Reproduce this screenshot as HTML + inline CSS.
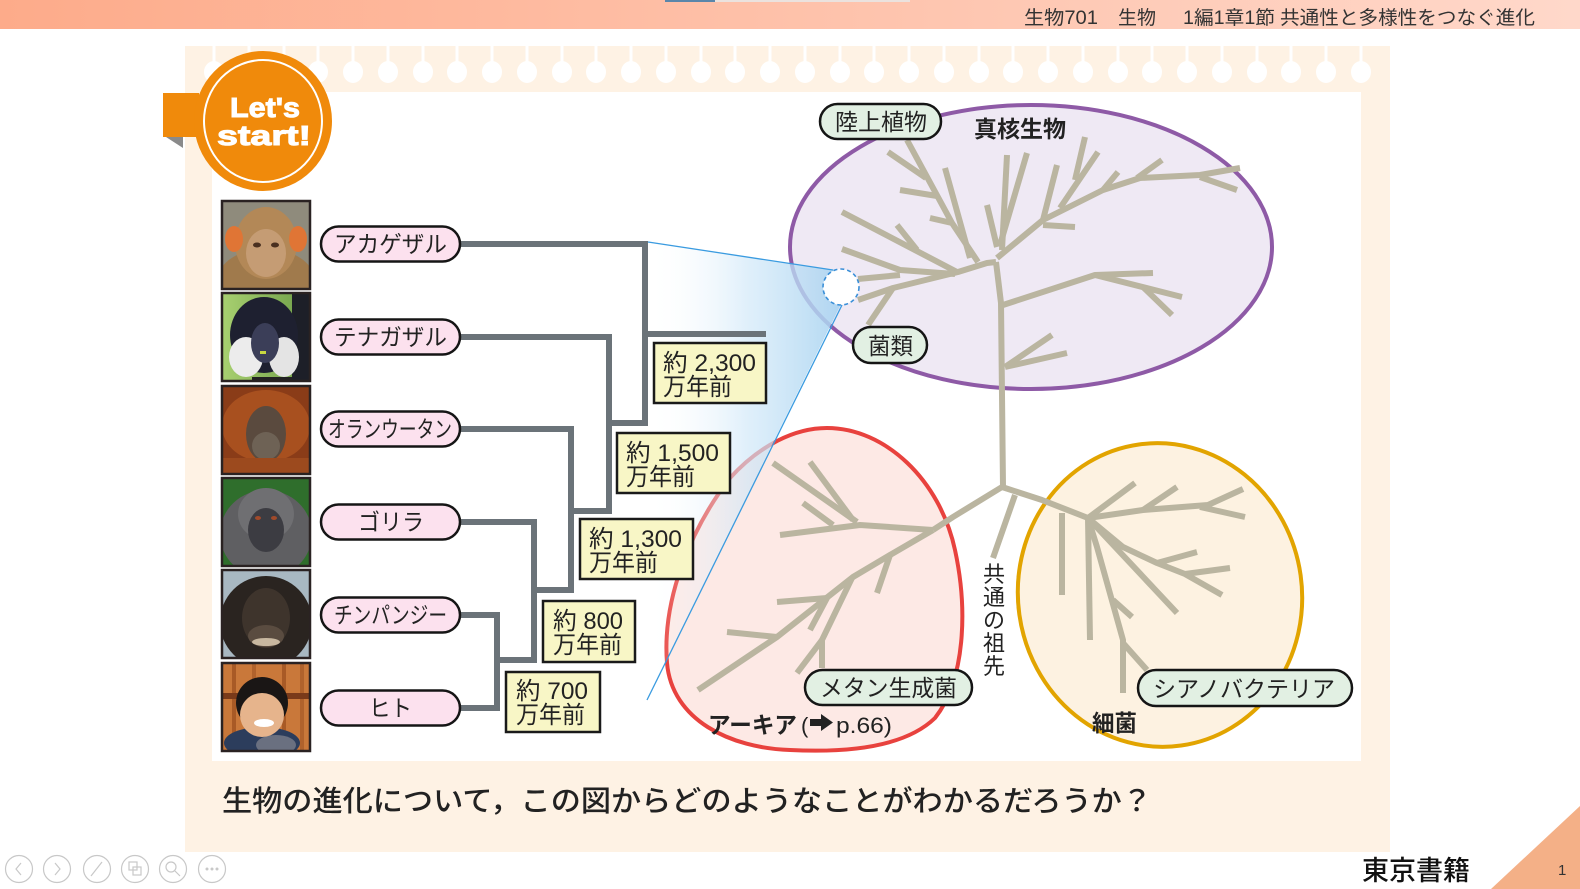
<!DOCTYPE html>
<html><head><meta charset="utf-8">
<style>
html,body{margin:0;padding:0;background:#fff;}
body{width:1580px;height:889px;overflow:hidden;}
svg{display:block;}
text{font-family:"Liberation Sans","Noto Sans CJK JP","DejaVu Sans",sans-serif;}
</style></head><body>
<svg width="1580" height="889" viewBox="0 0 1580 889" xmlns="http://www.w3.org/2000/svg">
<defs>
<linearGradient id="bar" x1="0" x2="1" y1="0" y2="0">
<stop offset="0" stop-color="#fdab8a"/><stop offset="1" stop-color="#ffd8ca"/>
</linearGradient>
<linearGradient id="cone" gradientUnits="userSpaceOnUse" x1="648" y1="0" x2="845" y2="0">
<stop offset="0" stop-color="#ffffff" stop-opacity="0"/>
<stop offset="0.5" stop-color="#cfe7f8" stop-opacity="0.65"/>
<stop offset="1" stop-color="#a6d2f0" stop-opacity="0.9"/>
</linearGradient>
<linearGradient id="gib" x1="0" x2="1" y1="0" y2="0">
<stop offset="0" stop-color="#a8d070"/><stop offset="1" stop-color="#6e9e48"/>
</linearGradient>
</defs>

<!-- top bar -->
<rect x="0" y="0" width="1580" height="29" fill="url(#bar)"/>
<rect x="665" y="0" width="50" height="2" fill="#5a86aa"/>
<rect x="715" y="0" width="195" height="2" fill="#ebe2de"/>
<g font-size="19" fill="#333">
<text x="1024" y="24" textLength="74" lengthAdjust="spacingAndGlyphs">生物701</text>
<text x="1118" y="24" textLength="38" lengthAdjust="spacingAndGlyphs">生物</text>
<text x="1183" y="24" textLength="92" lengthAdjust="spacingAndGlyphs">1編1章1節</text>
<text x="1280" y="24" textLength="255" lengthAdjust="spacingAndGlyphs">共通性と多様性をつなぐ進化</text>
</g>

<!-- card -->
<rect x="185" y="46" width="1205" height="806" fill="#fef2e4"/>
<rect x="212" y="92" width="1149" height="669" fill="#ffffff"/>
<g stroke="#fff" stroke-width="3">
<line x1="214" y1="46" x2="214" y2="64"/><line x1="249" y1="46" x2="249" y2="64"/><line x1="284" y1="46" x2="284" y2="64"/><line x1="318" y1="46" x2="318" y2="64"/><line x1="353" y1="46" x2="353" y2="64"/><line x1="388" y1="46" x2="388" y2="64"/><line x1="423" y1="46" x2="423" y2="64"/><line x1="457" y1="46" x2="457" y2="64"/><line x1="492" y1="46" x2="492" y2="64"/><line x1="527" y1="46" x2="527" y2="64"/><line x1="562" y1="46" x2="562" y2="64"/><line x1="596" y1="46" x2="596" y2="64"/><line x1="631" y1="46" x2="631" y2="64"/><line x1="666" y1="46" x2="666" y2="64"/><line x1="701" y1="46" x2="701" y2="64"/><line x1="735" y1="46" x2="735" y2="64"/><line x1="770" y1="46" x2="770" y2="64"/><line x1="805" y1="46" x2="805" y2="64"/><line x1="840" y1="46" x2="840" y2="64"/><line x1="874" y1="46" x2="874" y2="64"/><line x1="909" y1="46" x2="909" y2="64"/><line x1="944" y1="46" x2="944" y2="64"/><line x1="979" y1="46" x2="979" y2="64"/><line x1="1013" y1="46" x2="1013" y2="64"/><line x1="1048" y1="46" x2="1048" y2="64"/><line x1="1083" y1="46" x2="1083" y2="64"/><line x1="1118" y1="46" x2="1118" y2="64"/><line x1="1152" y1="46" x2="1152" y2="64"/><line x1="1187" y1="46" x2="1187" y2="64"/><line x1="1222" y1="46" x2="1222" y2="64"/><line x1="1257" y1="46" x2="1257" y2="64"/><line x1="1291" y1="46" x2="1291" y2="64"/><line x1="1326" y1="46" x2="1326" y2="64"/><line x1="1361" y1="46" x2="1361" y2="64"/>
</g>
<g fill="#fff">
<ellipse cx="214" cy="72" rx="10" ry="11"/><ellipse cx="249" cy="72" rx="10" ry="11"/><ellipse cx="284" cy="72" rx="10" ry="11"/><ellipse cx="318" cy="72" rx="10" ry="11"/><ellipse cx="353" cy="72" rx="10" ry="11"/><ellipse cx="388" cy="72" rx="10" ry="11"/><ellipse cx="423" cy="72" rx="10" ry="11"/><ellipse cx="457" cy="72" rx="10" ry="11"/><ellipse cx="492" cy="72" rx="10" ry="11"/><ellipse cx="527" cy="72" rx="10" ry="11"/><ellipse cx="562" cy="72" rx="10" ry="11"/><ellipse cx="596" cy="72" rx="10" ry="11"/><ellipse cx="631" cy="72" rx="10" ry="11"/><ellipse cx="666" cy="72" rx="10" ry="11"/><ellipse cx="701" cy="72" rx="10" ry="11"/><ellipse cx="735" cy="72" rx="10" ry="11"/><ellipse cx="770" cy="72" rx="10" ry="11"/><ellipse cx="805" cy="72" rx="10" ry="11"/><ellipse cx="840" cy="72" rx="10" ry="11"/><ellipse cx="874" cy="72" rx="10" ry="11"/><ellipse cx="909" cy="72" rx="10" ry="11"/><ellipse cx="944" cy="72" rx="10" ry="11"/><ellipse cx="979" cy="72" rx="10" ry="11"/><ellipse cx="1013" cy="72" rx="10" ry="11"/><ellipse cx="1048" cy="72" rx="10" ry="11"/><ellipse cx="1083" cy="72" rx="10" ry="11"/><ellipse cx="1118" cy="72" rx="10" ry="11"/><ellipse cx="1152" cy="72" rx="10" ry="11"/><ellipse cx="1187" cy="72" rx="10" ry="11"/><ellipse cx="1222" cy="72" rx="10" ry="11"/><ellipse cx="1257" cy="72" rx="10" ry="11"/><ellipse cx="1291" cy="72" rx="10" ry="11"/><ellipse cx="1326" cy="72" rx="10" ry="11"/><ellipse cx="1361" cy="72" rx="10" ry="11"/>
</g>

<!-- Let's start badge -->
<rect x="163" y="93" width="36" height="44" fill="#f08a0b"/>
<polygon points="166,137 183,137 183,148" fill="#8a8a8a"/>
<ellipse cx="263" cy="121" rx="69" ry="70" fill="#f08a0b"/>
<ellipse cx="263" cy="121" rx="59" ry="61" fill="none" stroke="#fff" stroke-width="2"/>
<g font-family="Liberation Sans" font-weight="bold" font-size="28" fill="#fff" stroke="#fff" stroke-width="1">
<text x="230" y="117" textLength="70" lengthAdjust="spacingAndGlyphs">Let's</text>
<text x="217" y="145" textLength="94" lengthAdjust="spacingAndGlyphs">start!</text>
</g>

<!-- photos -->
<svg x="222" y="201" width="88" height="88" viewBox="0 0 88 88">
<rect width="88" height="88" fill="#8f8b7c"/>
<ellipse cx="44" cy="78" rx="48" ry="30" fill="#a07a4c"/>
<ellipse cx="44" cy="42" rx="31" ry="36" fill="#b38857"/>
<ellipse cx="12" cy="38" rx="9" ry="13" fill="#e07535"/>
<ellipse cx="76" cy="38" rx="9" ry="13" fill="#e07535"/>
<ellipse cx="44" cy="52" rx="20" ry="24" fill="#c59c74"/>
<ellipse cx="35" cy="44" rx="4" ry="2.5" fill="#4a3020"/>
<ellipse cx="53" cy="44" rx="4" ry="2.5" fill="#4a3020"/>
</svg>
<svg x="222" y="293" width="88" height="88" viewBox="0 0 88 88">
<rect width="88" height="88" fill="url(#gib)"/>
<rect x="70" y="0" width="18" height="88" fill="#1d1f28"/>
<ellipse cx="42" cy="42" rx="34" ry="38" fill="#1e2030"/>
<ellipse cx="24" cy="64" rx="17" ry="20" fill="#ececec"/>
<ellipse cx="62" cy="64" rx="15" ry="20" fill="#e4e4e4"/>
<ellipse cx="43" cy="50" rx="14" ry="20" fill="#3b3e58"/>
<rect x="38" y="58" width="6" height="3" fill="#c8d840"/>
<rect x="30" y="84" width="40" height="4" fill="#222"/>
</svg>
<svg x="222" y="386" width="88" height="88" viewBox="0 0 88 88">
<rect width="88" height="88" fill="#8a3c18"/>
<ellipse cx="44" cy="40" rx="44" ry="36" fill="#a8501f"/>
<ellipse cx="44" cy="48" rx="20" ry="28" fill="#5a4a3e"/>
<ellipse cx="44" cy="60" rx="14" ry="14" fill="#6e6255"/>
<rect x="0" y="72" width="88" height="16" fill="#9c4a1e"/>
</svg>
<svg x="222" y="478" width="88" height="88" viewBox="0 0 88 88">
<rect width="88" height="88" fill="#2f6e2c"/>
<ellipse cx="44" cy="56" rx="46" ry="44" fill="#5f5f62"/>
<ellipse cx="44" cy="36" rx="28" ry="26" fill="#6f6f72"/>
<ellipse cx="44" cy="52" rx="18" ry="22" fill="#3c3c42"/>
<ellipse cx="36" cy="40" rx="3" ry="2" fill="#a24a2a"/>
<ellipse cx="52" cy="40" rx="3" ry="2" fill="#a24a2a"/>
</svg>
<svg x="222" y="570" width="88" height="88" viewBox="0 0 88 88">
<rect width="88" height="88" fill="#a8b8c2"/>
<ellipse cx="44" cy="52" rx="46" ry="46" fill="#2a2420"/>
<ellipse cx="44" cy="48" rx="24" ry="30" fill="#3e342c"/>
<ellipse cx="44" cy="66" rx="18" ry="11" fill="#5a4c40"/>
<ellipse cx="44" cy="72" rx="14" ry="4" fill="#c8b8a0"/>
</svg>
<svg x="222" y="663" width="88" height="88" viewBox="0 0 88 88">
<rect width="88" height="88" fill="#c9783a"/>
<rect x="10" width="4" height="88" fill="#a85a26"/><rect x="30" width="4" height="88" fill="#b0622c"/><rect x="60" width="4" height="88" fill="#a85a26"/><rect x="78" width="4" height="88" fill="#b0622c"/>
<rect x="0" y="30" width="88" height="6" fill="#7a3a1a"/>
<ellipse cx="40" cy="80" rx="38" ry="16" fill="#2c3d5c"/>
<ellipse cx="54" cy="82" rx="20" ry="10" fill="#6a7080"/>
<ellipse cx="40" cy="40" rx="26" ry="26" fill="#1a1615"/>
<ellipse cx="40" cy="52" rx="22" ry="22" fill="#e6b48c"/>
<ellipse cx="42" cy="60" rx="10" ry="4" fill="#fff"/>
</svg>
<g fill="none" stroke="#2a2222" stroke-width="2.5">
<rect x="222" y="201" width="88" height="88"/>
<rect x="222" y="293" width="88" height="88"/>
<rect x="222" y="386" width="88" height="88"/>
<rect x="222" y="478" width="88" height="88"/>
<rect x="222" y="570" width="88" height="88"/>
<rect x="222" y="663" width="88" height="88"/>
</g>

<!-- tree of life ellipses -->
<ellipse cx="1031" cy="247" rx="241" ry="142" fill="#efe9f4" stroke="#8e5aa6" stroke-width="4"/>
<path d="M827,428 C885,428 940,480 955,550 C968,610 965,680 935,718 C900,752 830,752 790,750 C730,748 672,720 667,663 C662,600 690,530 730,478 C760,445 795,428 827,428 Z" fill="#fde9e5" stroke="#e8423e" stroke-width="4"/>
<ellipse cx="1160" cy="595" rx="142" ry="152" transform="rotate(-8 1160 595)" fill="#fdf2e1" stroke="#e2a400" stroke-width="4"/>

<!-- tree lines -->
<g fill="none" stroke="#bab5a0" stroke-width="6" stroke-linecap="butt" stroke-linejoin="round">
<path d="M1003,487 L1001,303 L996,262"/>
<path d="M996,262 L987,263 L958,272 L893,288 L858,300"/>
<path d="M893,288 L868,325"/>
<path d="M955,274 L900,270 L842,249"/>
<path d="M900,275 L858,279"/>
<path d="M842,212 L957,272"/>
<path d="M897,225 L917,250"/>
<path d="M978,262 L952,223 L907,140"/>
<path d="M888,152 L926,178"/>
<path d="M900,190 L937,196"/>
<path d="M930,218 L952,223"/>
<path d="M945,168 L970,258"/>
<path d="M987,205 L997,247"/>
<path d="M1007,155 L1002,250"/>
<path d="M1027,153 L1000,245"/>
<path d="M997,258 L1043,220 L1103,190 L1140,178 L1200,175 L1240,168"/>
<path d="M1043,220 L1057,165"/>
<path d="M1043,225 L1075,227"/>
<path d="M1060,208 L1098,152"/>
<path d="M1085,137 L1075,180"/>
<path d="M1103,190 L1118,172"/>
<path d="M1137,178 L1162,160"/>
<path d="M1200,177 L1237,190"/>
<path d="M1003,305 L1095,275 L1153,273"/>
<path d="M1095,275 L1182,297"/>
<path d="M1143,287 L1172,315"/>
<path d="M1005,367 L1052,335"/>
<path d="M1005,367 L1067,353"/>
<path d="M1002,487 L953,517 L933,530"/>
<path d="M1002,487 L1042,500 L1088,518"/>
<path d="M1015,495 L993,558"/>
<path d="M933,530 L860,525 L780,535"/>
<path d="M857,522 L773,463"/>
<path d="M853,520 L810,462"/>
<path d="M833,525 L803,503"/>
<path d="M933,530 L890,555 L853,577 L777,637 L698,690"/>
<path d="M890,555 L877,593"/>
<path d="M852,578 L822,640 L822,668"/>
<path d="M822,640 L797,673"/>
<path d="M827,598 L777,602"/>
<path d="M827,598 L810,630"/>
<path d="M777,637 L727,632"/>
<path d="M1088,518 L1135,483"/>
<path d="M1088,518 L1143,510 L1208,505 L1243,489"/>
<path d="M1143,510 L1177,487"/>
<path d="M1200,507 L1245,517"/>
<path d="M1088,518 L1123,547 L1157,563 L1185,574 L1222,595"/>
<path d="M1157,563 L1197,552"/>
<path d="M1185,574 L1230,568"/>
<path d="M1088,518 L1177,613"/>
<path d="M1088,518 L1090,640"/>
<path d="M1088,518 L1097,547 L1123,640 L1123,693"/>
<path d="M1113,600 L1132,617"/>
<path d="M1123,643 L1147,670"/>
<path d="M1062,513 L1062,595"/>
</g>

<!-- zoom cone -->
<polygon points="648,242 835,270 843,300 647,700" fill="url(#cone)"/>
<g stroke="#3a9be0" stroke-width="1.3" fill="none">
<line x1="648" y1="242" x2="833" y2="270"/>
<line x1="842" y1="305" x2="647" y2="700"/>
</g>
<circle cx="841" cy="287" r="18" fill="#fff" stroke="#3a8fd8" stroke-width="1.6" stroke-dasharray="4,3"/>

<!-- primate tree lines -->
<g fill="none" stroke="#6b7379" stroke-width="6" stroke-linejoin="miter">
<path d="M460,244 H645 V426"/>
<path d="M645,334 H766"/>
<path d="M460,337 H609 V514"/>
<path d="M609,423 H645"/>
<path d="M460,429 H571 V593"/>
<path d="M571,511 H609"/>
<path d="M460,522 H534 V663"/>
<path d="M534,590 H571"/>
<path d="M460,615 H497 V708 H460"/>
<path d="M497,660 H534"/>
</g>

<!-- primate labels -->
<g fill="#fce1ee" stroke="#151515" stroke-width="2.5">
<rect x="321" y="226.5" width="139" height="35" rx="17.5"/>
<rect x="321" y="319.5" width="139" height="35" rx="17.5"/>
<rect x="321" y="411.5" width="139" height="35" rx="17.5"/>
<rect x="321" y="504.5" width="139" height="35" rx="17.5"/>
<rect x="321" y="597.5" width="139" height="35" rx="17.5"/>
<rect x="321" y="690.5" width="139" height="35" rx="17.5"/>
</g>
<g font-size="23" fill="#222">
<text x="334" y="252" textLength="113" lengthAdjust="spacingAndGlyphs">アカゲザル</text>
<text x="334" y="345" textLength="113" lengthAdjust="spacingAndGlyphs">テナガザル</text>
<text x="328" y="437" textLength="124" lengthAdjust="spacingAndGlyphs">オランウータン</text>
<text x="358" y="530" textLength="66" lengthAdjust="spacingAndGlyphs">ゴリラ</text>
<text x="334" y="623" textLength="113" lengthAdjust="spacingAndGlyphs">チンパンジー</text>
<text x="369" y="716" textLength="43" lengthAdjust="spacingAndGlyphs">ヒト</text>
</g>

<!-- time boxes -->
<g fill="#f8f6c6" stroke="#1a1a1a" stroke-width="2.5">
<rect x="654" y="343" width="112" height="60"/>
<rect x="617" y="433" width="113" height="60"/>
<rect x="580" y="519" width="113" height="60"/>
<rect x="543" y="601" width="92" height="61"/>
<rect x="506" y="672" width="94" height="60"/>
</g>
<g font-size="24" fill="#222">
<text x="663" y="371" textLength="93" lengthAdjust="spacingAndGlyphs">約 2,300</text>
<text x="663" y="395" textLength="69" lengthAdjust="spacingAndGlyphs">万年前</text>
<text x="626" y="461" textLength="93" lengthAdjust="spacingAndGlyphs">約 1,500</text>
<text x="626" y="485" textLength="69" lengthAdjust="spacingAndGlyphs">万年前</text>
<text x="589" y="547" textLength="93" lengthAdjust="spacingAndGlyphs">約 1,300</text>
<text x="589" y="571" textLength="69" lengthAdjust="spacingAndGlyphs">万年前</text>
<text x="553" y="629" textLength="70" lengthAdjust="spacingAndGlyphs">約 800</text>
<text x="553" y="653" textLength="69" lengthAdjust="spacingAndGlyphs">万年前</text>
<text x="516" y="699" textLength="72" lengthAdjust="spacingAndGlyphs">約 700</text>
<text x="516" y="723" textLength="69" lengthAdjust="spacingAndGlyphs">万年前</text>
</g>

<!-- tree labels -->
<g fill="#e2f0e3" stroke="#151515" stroke-width="2.5">
<rect x="820" y="104" width="121" height="35" rx="17.5"/>
<rect x="853" y="327" width="74" height="36" rx="18"/>
<rect x="805" y="670" width="167" height="35" rx="17.5"/>
<rect x="1138" y="670" width="214" height="36" rx="18"/>
</g>
<g font-size="23" fill="#222">
<text x="835" y="130" textLength="92" lengthAdjust="spacingAndGlyphs">陸上植物</text>
<text x="868" y="354" textLength="45" lengthAdjust="spacingAndGlyphs">菌類</text>
<text x="820" y="696" textLength="137" lengthAdjust="spacingAndGlyphs">メタン生成菌</text>
<text x="1153" y="697" textLength="182" lengthAdjust="spacingAndGlyphs">シアノバクテリア</text>
<text x="974" y="137" font-weight="bold" textLength="92" lengthAdjust="spacingAndGlyphs">真核生物</text>
<text x="1092" y="731" font-weight="bold" textLength="45" lengthAdjust="spacingAndGlyphs">細菌</text>
<text x="708" y="733" font-weight="bold" textLength="89" lengthAdjust="spacingAndGlyphs">アーキア</text>
<text x="801" y="733" font-size="22">(</text>
<text x="836" y="733" font-size="22" textLength="56" lengthAdjust="spacingAndGlyphs">p.66)</text>
</g>
<polygon points="810,719 821,719 821,714 833,722.5 821,731 821,726 810,726" fill="#222"/>
<g font-size="22" fill="#222" text-anchor="middle">
<text x="994" y="582">共</text>
<text x="994" y="605">通</text>
<text x="994" y="628">の</text>
<text x="994" y="651">祖</text>
<text x="994" y="674">先</text>
</g>

<!-- question -->
<text x="222" y="811" font-size="29" font-weight="500" fill="#222" textLength="930" lengthAdjust="spacingAndGlyphs">生物の進化について，この図からどのようなことがわかるだろうか？</text>

<!-- footer -->
<g fill="none" stroke="#c8c8c8" stroke-width="1.2">
<circle cx="19" cy="869" r="13.5"/><circle cx="57" cy="869" r="13.5"/><circle cx="97" cy="869" r="13.5"/><circle cx="135" cy="869" r="13.5"/><circle cx="173" cy="869" r="13.5"/><circle cx="212" cy="869" r="13.5"/>
<path d="M21,863 L16,869 L21,875"/>
<path d="M55,863 L60,869 L55,875"/>
<path d="M91,876 L102,862"/>
<rect x="129" y="862" width="8" height="8"/><rect x="133" y="867" width="8" height="8"/>
<circle cx="171" cy="867" r="5"/><path d="M175,871 L180,876"/>
</g>
<g fill="#c8c8c8"><circle cx="207" cy="869" r="1.5"/><circle cx="212" cy="869" r="1.5"/><circle cx="217" cy="869" r="1.5"/></g>
<text x="1362" y="880" font-size="27" font-weight="500" fill="#111" textLength="108" lengthAdjust="spacingAndGlyphs">東京書籍</text>
<polygon points="1491,889 1580,889 1580,806" fill="#f4b087"/>
<text x="1558" y="875" font-size="15" fill="#333">1</text>
</svg>
</body></html>
